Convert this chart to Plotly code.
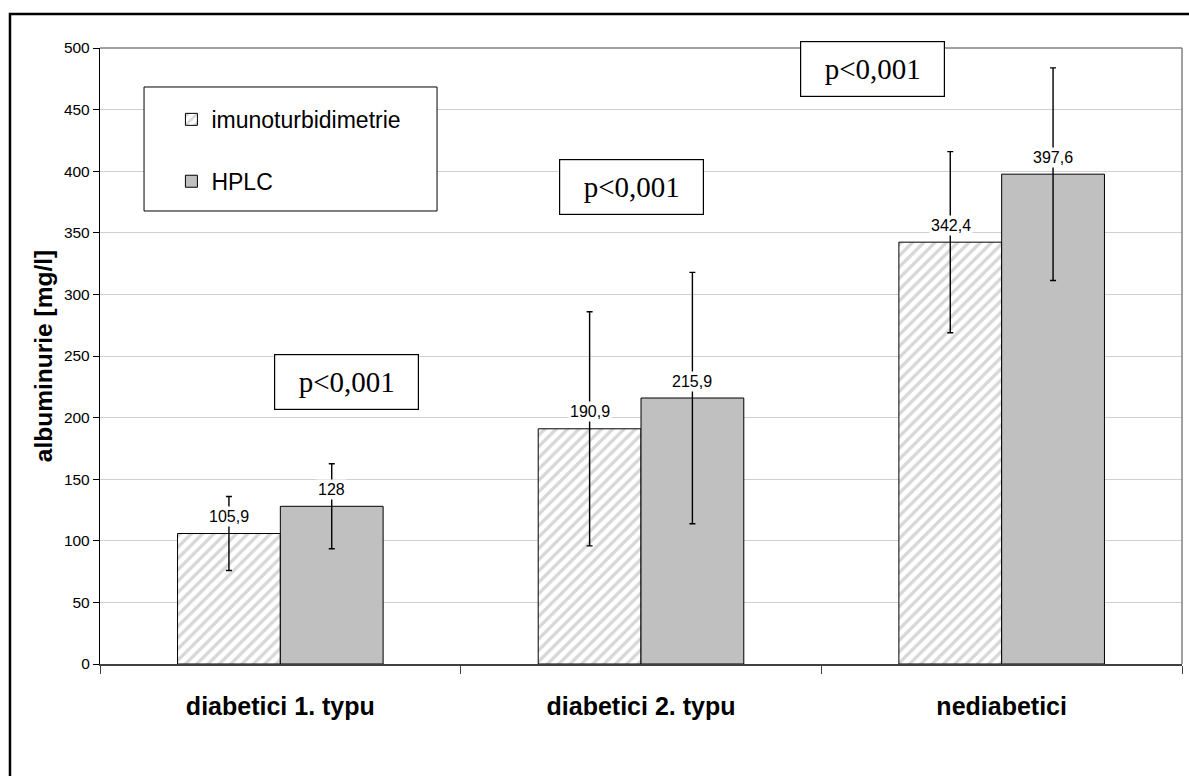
import plotly.graph_objects as go

# Albuminuria by patient group, two measurement methods
categories = ["diabetici 1. typu", "diabetici 2. typu", "nediabetici"]
imuno_values = [105.9, 190.9, 342.4]
hplc_values = [128.0, 215.9, 397.6]
imuno_err = [30.0, 95.0, 73.5]
hplc_err = [34.5, 102.0, 86.3]
imuno_labels = ["105,9", "190,9", "342,4"]
hplc_labels = ["128", "215,9", "397,6"]
y_ticks = [0, 50, 100, 150, 200, 250, 300, 350, 400, 450, 500]
p_texts = ["p<0,001", "p<0,001", "p<0,001"]

BAR_W = 0.285
AX_FONT = "Arial, Liberation Sans, sans-serif"
SERIF = "Times New Roman, Liberation Serif, serif"

fig = go.Figure()

fig.add_trace(go.Bar(
    name="imunoturbidimetrie",
    x=categories, y=imuno_values,
    width=BAR_W, offset=-BAR_W,
    marker=dict(
        color="white",
        line=dict(color="black", width=1),
        pattern=dict(shape="/", fgcolor="#b0b0b0", bgcolor="white",
                     size=8, solidity=0.42, fillmode="overlay"),
    ),
    error_y=dict(type="data", array=imuno_err, visible=True,
                 color="black", thickness=1.4, width=3),
    legendgroup="a",
))
fig.add_trace(go.Bar(
    name="HPLC",
    x=categories, y=hplc_values,
    width=BAR_W, offset=0,
    marker=dict(color="#c0c0c0", line=dict(color="black", width=1)),
    error_y=dict(type="data", array=hplc_err, visible=True,
                 color="black", thickness=1.4, width=3),
    legendgroup="b",
))

annotations = []
# value labels above each bar
for i, cat in enumerate(categories):
    for val, lab, shift in ((imuno_values[i], imuno_labels[i], -51),
                            (hplc_values[i], hplc_labels[i], 51)):
        annotations.append(dict(
            x=cat, y=val, xref="x", yref="y", text=lab, showarrow=False,
            xshift=shift, yshift=17, bgcolor="white", borderpad=1,
            font=dict(family=AX_FONT, size=16, color="black"),
        ))

# significance boxes
p_pos = [(0.1604, 229.2), (0.4908, 386.8), (0.7805, 482.9)]
for (px, py), txt in zip(p_pos, p_texts):
    annotations.append(dict(
        x=px, y=py, xref="paper", yref="y", text=txt, showarrow=False,
        width=143, height=54, bgcolor="white", bordercolor="black",
        borderwidth=1.2, borderpad=0,
        font=dict(family=SERIF, size=29, color="black"),
    ))

shapes = [
    # legend frame
    dict(type="rect", xref="paper", yref="paper", x0=0.0407, x1=0.3115,
         y0=0.7354, y1=0.9367, line=dict(color="black", width=1),
         fillcolor="white", layer="above"),
    # plot area border (top, right)
    dict(type="line", xref="paper", yref="paper", x0=0, x1=1, y0=1, y1=1,
         line=dict(color="#808080", width=1.5)),
    dict(type="line", xref="paper", yref="paper", x0=1, x1=1, y0=0, y1=1,
         line=dict(color="#808080", width=1.5)),
    # outer chart frame
    dict(type="rect", xref="paper", yref="paper", x0=-0.0832, x1=1.2,
         y0=-0.3, y1=1.0552, line=dict(color="black", width=2.5)),
]

fig.update_layout(
    width=1189, height=776,
    margin=dict(l=100, r=7, t=48, b=112, autoexpand=False),
    paper_bgcolor="white", plot_bgcolor="white",
    barmode="group", bargap=0.43,
    font=dict(family=AX_FONT, color="black"),
    showlegend=True,
    legend=dict(x=0.066, y=0.919, xanchor="left", yanchor="top",
                bgcolor="rgba(0,0,0,0)", borderwidth=0,
                font=dict(family=AX_FONT, size=23, color="black"),
                tracegroupgap=29, traceorder="grouped",
                itemwidth=30),
    annotations=annotations,
    shapes=shapes,
    xaxis=dict(
        type="category", tickson="boundaries", ticks="outside", ticklen=8,
        tickcolor="#404040", showgrid=False, showline=True,
        linecolor="#404040", linewidth=1.5, zeroline=False,
        tickfont=dict(family=AX_FONT, size=25, color="black", weight="bold"),
        ticklabelstandoff=19, range=[-0.5, 2.5],
    ),
    yaxis=dict(
        range=[0, 500], tickvals=y_ticks, ticks="outside", ticklen=6,
        tickcolor="black", showline=True, linecolor="black", linewidth=1.3,
        showgrid=True, gridcolor="#d0d0d0", gridwidth=1, zeroline=False,
        tickfont=dict(family=AX_FONT, size=15.5, color="black"),
        title=dict(text="albuminurie [mg/l]", standoff=4,
                   font=dict(family=AX_FONT, size=24.5, color="black",
                             weight="bold")),
    ),
)

fig.write_html("out.html")
